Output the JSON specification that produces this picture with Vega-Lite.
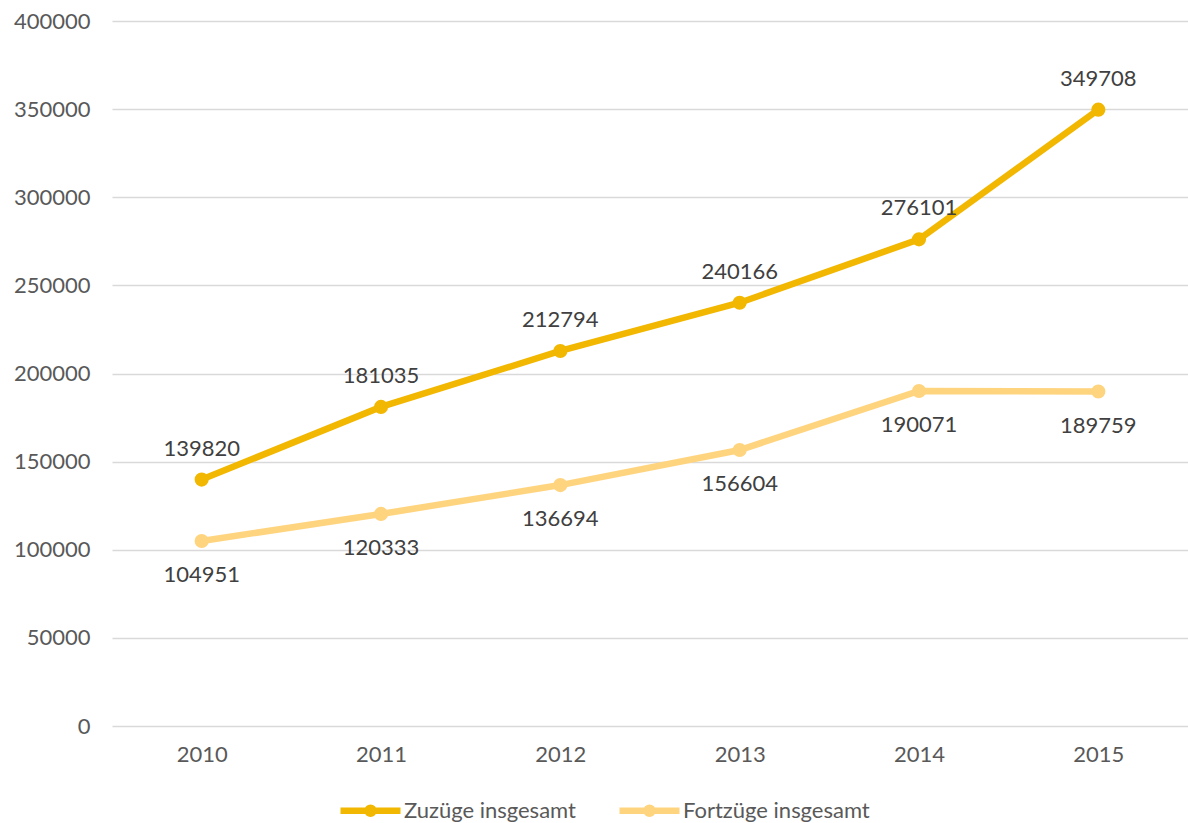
{
  "$schema": "https://vega.github.io/schema/vega-lite/v6.json",
  "autosize": "none",
  "width": 1076,
  "height": 705,
  "padding": {"left": 112, "top": 21, "right": 0, "bottom": 97},
  "background": "white",
  "config": {
    "font": "Lato",
    "view": {"stroke": null}
  },
  "data": {
    "values": [
      {"year": "2010", "series": "Zuzüge insgesamt", "value": 139820},
      {"year": "2011", "series": "Zuzüge insgesamt", "value": 181035},
      {"year": "2012", "series": "Zuzüge insgesamt", "value": 212794},
      {"year": "2013", "series": "Zuzüge insgesamt", "value": 240166},
      {"year": "2014", "series": "Zuzüge insgesamt", "value": 276101},
      {"year": "2015", "series": "Zuzüge insgesamt", "value": 349708},
      {"year": "2010", "series": "Fortzüge insgesamt", "value": 104951},
      {"year": "2011", "series": "Fortzüge insgesamt", "value": 120333},
      {"year": "2012", "series": "Fortzüge insgesamt", "value": 136694},
      {"year": "2013", "series": "Fortzüge insgesamt", "value": 156604},
      {"year": "2014", "series": "Fortzüge insgesamt", "value": 190071},
      {"year": "2015", "series": "Fortzüge insgesamt", "value": 189759}
    ]
  },
  "encoding": {
    "x": {
      "field": "year", "type": "ordinal",
      "scale": {"type": "point", "padding": 0.5},
      "axis": {"title": null, "labelAngle": 0, "domain": false, "ticks": false, "grid": false,
               "labelFont": "Lato", "labelFontSize": 22, "labelColor": "#595959", "labelPadding": 18}
    },
    "y": {
      "field": "value", "type": "quantitative",
      "scale": {"domain": [0, 400000]},
      "axis": {"title": null, "values": [0, 50000, 100000, 150000, 200000, 250000, 300000, 350000, 400000],
               "format": "d", "domain": false, "ticks": false, "gridColor": "#d9d9d9", "gridWidth": 1.5,
               "labelFont": "Lato", "labelFontSize": 22, "labelColor": "#595959", "labelPadding": 22}
    }
  },
  "layer": [
    {
      "mark": {"type": "line", "strokeWidth": 6.5, "point": {"filled": true, "size": 200}},
      "encoding": {
        "color": {
          "field": "series", "type": "nominal",
          "scale": {"domain": ["Zuzüge insgesamt", "Fortzüge insgesamt"], "range": ["#F2B700", "#FFD47F"]},
          "legend": {"title": null, "orient": "none", "direction": "horizontal", "legendX": 225, "legendY": 756,
                     "labelFont": "Lato", "labelFontSize": 22, "labelColor": "#595959", "labelLimit": 400,
                     "symbolType": "M-1,0L1,0M-0.1,0A0.1,0.1,0,1,1,0.1,0A0.1,0.1,0,1,1,-0.1,0Z",
                     "symbolSize": 3600, "symbolStrokeWidth": 6.5, "columnPadding": 30, "labelOffset": 0}
        }
      }
    },
    {
      "transform": [{"filter": "datum.series === 'Zuzüge insgesamt'"}],
      "mark": {"type": "text", "dy": -31, "fontSize": 22, "color": "#404040", "font": "Lato"},
      "encoding": {"text": {"field": "value", "type": "quantitative", "format": "d"}}
    },
    {
      "transform": [{"filter": "datum.series === 'Fortzüge insgesamt'"}],
      "mark": {"type": "text", "dy": 34, "fontSize": 22, "color": "#404040", "font": "Lato"},
      "encoding": {"text": {"field": "value", "type": "quantitative", "format": "d"}}
    }
  ]
}
